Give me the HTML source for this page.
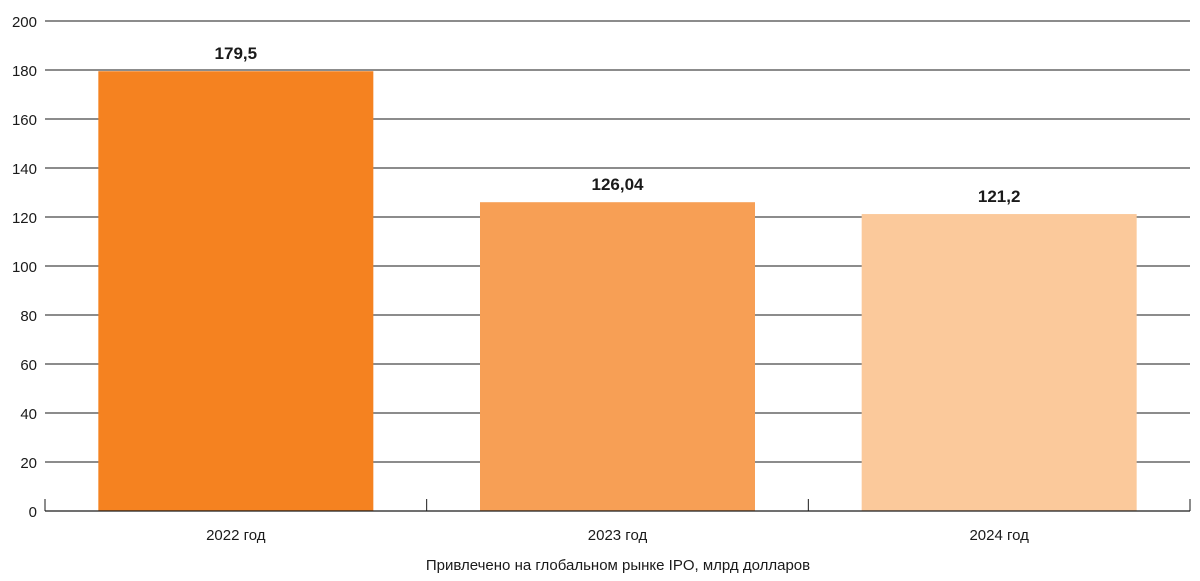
<!DOCTYPE html>
<html><head><meta charset="utf-8"><style>
html,body{margin:0;padding:0;background:#fff;}
svg{display:block;font-family:"Liberation Sans",sans-serif;}
</style></head><body>
<svg id="chart" width="1200" height="581" viewBox="0 0 1200 581"></svg>
<script>
const categories = ["2022 год", "2023 год", "2024 год"];
const values = [179.5, 126.04, 121.2];
const valueLabels = ["179,5", "126,04", "121,2"];
const yTicks = [0, 20, 40, 60, 80, 100, 120, 140, 160, 180, 200];
const colors = ["#F58220", "#F79F55", "#FBC99B"];

const svg = document.getElementById('chart');
const NS = "http://www.w3.org/2000/svg";
const x0 = 45, x1 = 1190, yBase = 511, yTop = 21, yMax = 200;
const y = v => yBase - (v / yMax) * (yBase - yTop);
const bandW = (x1 - x0) / categories.length;
const barW = 275;
function mk(tag, attrs, parent) {
  const e = document.createElementNS(NS, tag);
  for (const k in attrs) e.setAttribute(k, attrs[k]);
  (parent || svg).appendChild(e);
  return e;
}
yTicks.forEach(t => {
  const yy = y(t);
  if (t > 0) {
    const g = mk('line', {x1: x0, x2: x1, y1: yy, y2: yy, stroke: '#1a1a1a', 'stroke-width': 1});
    
    
  }
  const tx = mk('text', {x: 37, y: yy + 6, 'text-anchor': 'end', 'font-size': 15, fill: '#1a1a1a'});
  tx.textContent = t;
  
  
});
categories.forEach((c, i) => {
  const cx = x0 + bandW * (i + 0.5);
  const r = mk('rect', {x: cx - barW / 2, y: y(values[i]), width: barW, height: yBase - y(values[i]), fill: colors[i]});
  
  
  const vl = mk('text', {x: cx, y: y(values[i]) - 12, 'text-anchor': 'middle', 'font-size': 17, 'font-weight': 'bold', fill: '#1a1a1a'});
  vl.textContent = valueLabels[i];
  
  
  const cl = mk('text', {x: cx, y: 540, 'text-anchor': 'middle', 'font-size': 15, fill: '#1a1a1a'});
  cl.textContent = c;
  
  
});
const base = mk('line', {x1: x0, x2: x1, y1: yBase, y2: yBase, stroke: '#1a1a1a', 'stroke-width': 1.3});


for (let i = 0; i <= categories.length; i++) {
  const xx = x0 + bandW * i;
  const tk = mk('line', {x1: xx, x2: xx, y1: yBase - 12, y2: yBase, stroke: '#1a1a1a', 'stroke-width': 1});
  
  
}
const title = mk('text', {x: 618, y: 570, 'text-anchor': 'middle', 'font-size': 15, fill: '#1a1a1a'});
title.textContent = "Привлечено на глобальном рынке IPO, млрд долларов";


</script>
</body></html>
